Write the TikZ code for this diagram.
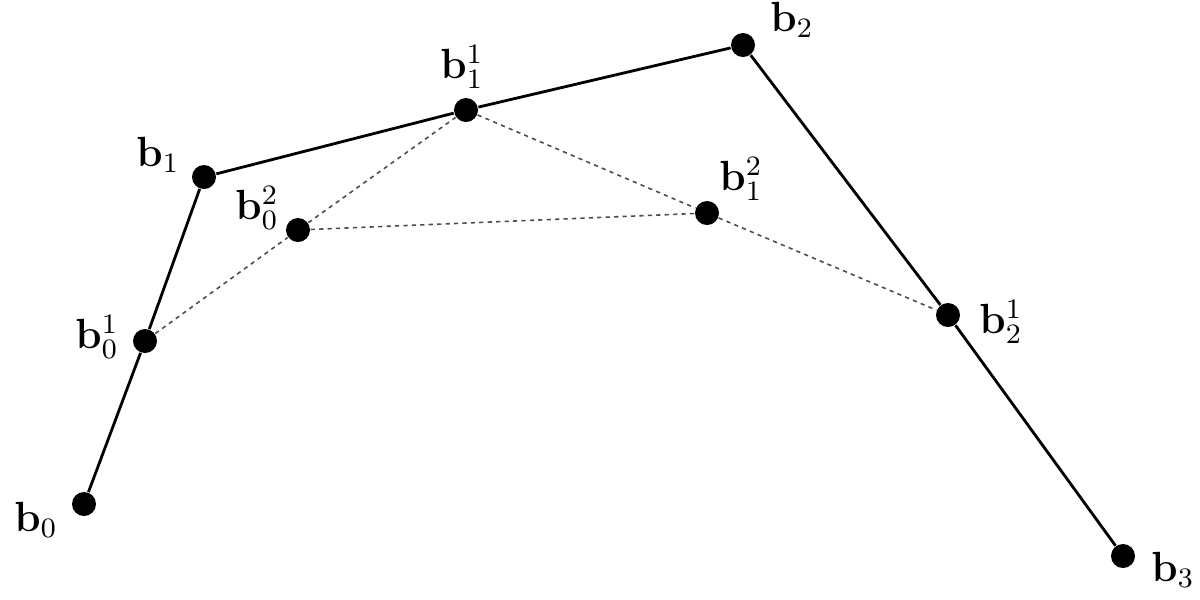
\documentclass[tikz,border=0pt]{standalone}
\usepackage{amsmath, amssymb}
\usepackage{tikz}
\usetikzlibrary{arrows.meta, positioning, calc}

\tikzset{
    punto/.style={circle, fill=black, inner sep=0pt, minimum size=0.24cm},
    etichetta/.style={font=\large, inner sep=1pt},
    poligono/.style={line width=0.8pt},
    costruzione/.style={line width=0.45pt, black!70, dash pattern=on 1.2pt off 1.2pt}
}

\begin{document}
\begin{tikzpicture}
    \useasboundingbox (0,0) rectangle (12,5.99);

    % Punti di controllo
    \node[punto] (b0) at (0.84, 0.95) {};
    \node[punto] (b1) at (2.04, 4.22) {};
    \node[punto] (b2) at (7.43, 5.54) {};
    \node[punto] (b3) at (11.23, 0.43) {};

    % Primo passo
    \node[punto] (b01) at (1.45, 2.58) {};
    \node[punto] (b11) at (4.66, 4.89) {};
    \node[punto] (b21) at (9.48, 2.84) {};

    % Secondo passo
    \node[punto] (b02) at (2.98, 3.69) {};
    \node[punto] (b12) at (7.07, 3.86) {};

    % Poligono di controllo
    \draw[poligono] (b0) -- (b01) -- (b1) -- (b11) -- (b2) -- (b21) -- (b3);

    % Segmenti di costruzione (tratteggiati)
    \draw[costruzione] (b01) -- (b02) -- (b11) -- (b12) -- (b21);
    \draw[costruzione] (b02) -- (b12);

    % Etichette
    \node[etichetta] (lb0) at ([shift={(-0.48,-0.16)}]b0) {$\mathbf{b}_0$};
    \node[etichetta] (lb1) at ([shift={(-0.46,0.22)}]b1) {$\mathbf{b}_1$};
    \node[etichetta] (lb2) at ([shift={(0.49,0.25)}]b2) {$\mathbf{b}_2$};
    \node[etichetta] (lb3) at ([shift={(0.50,-0.14)}]b3) {$\mathbf{b}_3$};
    \node[etichetta] (lb01) at ([shift={(-0.48,0.04)}]b01) {$\mathbf{b}_0^1$};
    \node[etichetta] (lb11) at ([shift={(-0.04,0.43)}]b11) {$\mathbf{b}_1^1$};
    \node[etichetta] (lb21) at ([shift={(0.53,-0.07)}]b21) {$\mathbf{b}_2^1$};
    \node[etichetta] (lb02) at ([shift={(-0.41,0.22)}]b02) {$\mathbf{b}_0^2$};
    \node[etichetta] (lb12) at ([shift={(0.34,0.34)}]b12) {$\mathbf{b}_1^2$};

\end{tikzpicture}
\end{document}
